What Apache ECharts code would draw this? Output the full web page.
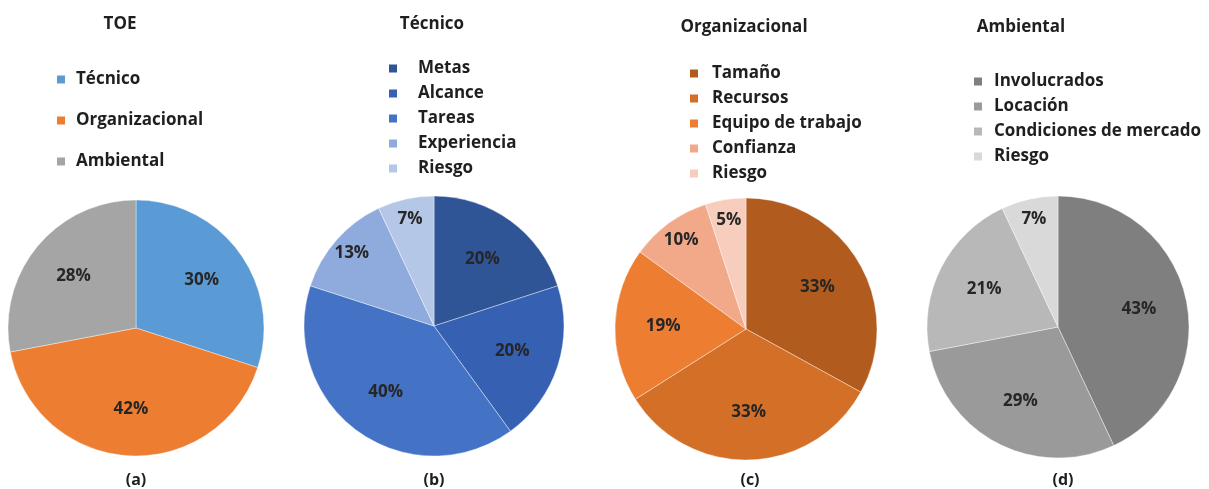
<!DOCTYPE html>
<html>
<head>
<meta charset="utf-8">
<script src="https://cdn.jsdelivr.net/npm/echarts@6/dist/echarts.min.js"></script>
<style>
  html, body { margin: 0; padding: 0; background: #fff; }
  #main { width: 1209px; height: 489px; }
</style>
</head>
<body>
<div id="main"></div>
<script>
const toeNames = ['Técnico', 'Organizacional', 'Ambiental'];
const toeValues = [30, 42, 28];
const tecNames = ['Metas', 'Alcance', 'Tareas', 'Experiencia', 'Riesgo'];
const tecValues = [20, 20, 40, 13, 7];
const orgNames = ['Tamaño', 'Recursos', 'Equipo de trabajo', 'Confianza', 'Riesgo'];
const orgValues = [33, 33, 19, 10, 5];
const ambNames = ['Involucrados', 'Locación', 'Condiciones de mercado', 'Riesgo'];
const ambValues = [43, 29, 21, 7];
const panelTitles = ['TOE', 'Técnico', 'Organizacional', 'Ambiental'];
const captions = ['(a)', '(b)', '(c)', '(d)'];

const FONT = '"Open Sans"';
const chart = echarts.init(document.getElementById('main'));

// legend.top is the top of the first row, textGap the space icon -> text
const panels = [
  {names: toeNames, values: toeValues, colors: ['#5b9bd5', '#ed7d31', '#a5a5a5'],
   center: [136, 328], r: 128, title: [120, 24], caption: [136, 480],
   legend: {left: 55, top: 71, itemGap: 24, textGap: 10}},
  {names: tecNames, values: tecValues, colors: ['#2f5597', '#3660b2', '#4472c4', '#8faadc', '#b4c7e7'],
   center: [434, 326], r: 130, title: [432, 24], caption: [434, 480],
   legend: {left: 387, top: 60, itemGap: 8, textGap: 20}},
  {names: orgNames, values: orgValues, colors: ['#b25b1e', '#d46f27', '#ed7d31', '#f1a989', '#f7cdbd'],
   center: [746, 329], r: 131, title: [744, 27], caption: [750, 480],
   legend: {left: 688, top: 65, itemGap: 8, textGap: 13}},
  {names: ambNames, values: ambValues, colors: ['#7f7f7f', '#9a9a9a', '#b8b8b8', '#d9d9d9'],
   center: [1058, 327], r: 131, title: [1021, 27], caption: [1063, 480],
   legend: {left: 972, top: 73, itemGap: 8, textGap: 11}}
];

const labelStyle = {
  position: 'inside',
  color: '#262626',
  fontFamily: FONT,
  fontWeight: 'bold',
  fontSize: 17
};

const series = [];
const legends = [];
const graphic = [];

panels.forEach((p, i) => {
  const data = p.names.map((n, k) => ({name: n, value: p.values[k], itemStyle: {color: p.colors[k]}}));
  series.push({
    type: 'pie',
    center: p.center,
    radius: p.r,
    startAngle: 90,
    clockwise: true,
    silent: true,
    avoidLabelOverlap: false,
    label: {show: false},
    labelLine: {show: false},
    itemStyle: {borderColor: '#fff', borderWidth: 0.4},
    data: data
  });
  // transparent overlays used only to place the percentage labels
  [[1.22, v => v >= 15], [1.64, v => v < 15]].forEach(([k, keep]) => {
    series.push({
      type: 'pie',
      center: p.center,
      radius: p.r * k,
      startAngle: 90,
      silent: true,
      avoidLabelOverlap: false,
      itemStyle: {color: 'rgba(0,0,0,0)'},
      label: Object.assign({}, labelStyle, {
        formatter: prm => keep(prm.value) ? prm.value + '%' : ''
      }),
      labelLine: {show: false},
      emphasis: {disabled: true},
      data: p.names.map((n, j) => ({name: n + ' ', value: p.values[j]}))
    });
  });
  legends.push({
    orient: 'vertical',
    left: p.legend.left,
    top: p.legend.top,
    padding: 0,
    itemGap: p.legend.itemGap,
    icon: 'rect',
    itemWidth: 10,
    itemHeight: 10,
    selectedMode: false,
    textStyle: {color: '#1f1f1f', fontFamily: FONT, fontWeight: 'bold', fontSize: 17, lineHeight: 17,
      padding: [0, 0, 0, p.legend.textGap - 5]},
    data: p.names.map((n, k) => ({name: n, itemStyle: {color: p.colors[k]}}))
  });
  graphic.push({
    type: 'text', x: p.title[0], y: p.title[1],
    style: {text: panelTitles[i], align: 'center', verticalAlign: 'middle',
      fill: '#1f1f1f', font: 'bold 17px ' + FONT}
  });
  graphic.push({
    type: 'text', x: p.caption[0], y: p.caption[1],
    style: {text: captions[i], align: 'center', verticalAlign: 'middle',
      fill: '#1f1f1f', font: 'bold 16px ' + FONT}
  });
});

chart.setOption({
  backgroundColor: '#fff',
  animation: false,
  legend: legends,
  graphic: graphic,
  series: series
});
</script>
</body>
</html>
